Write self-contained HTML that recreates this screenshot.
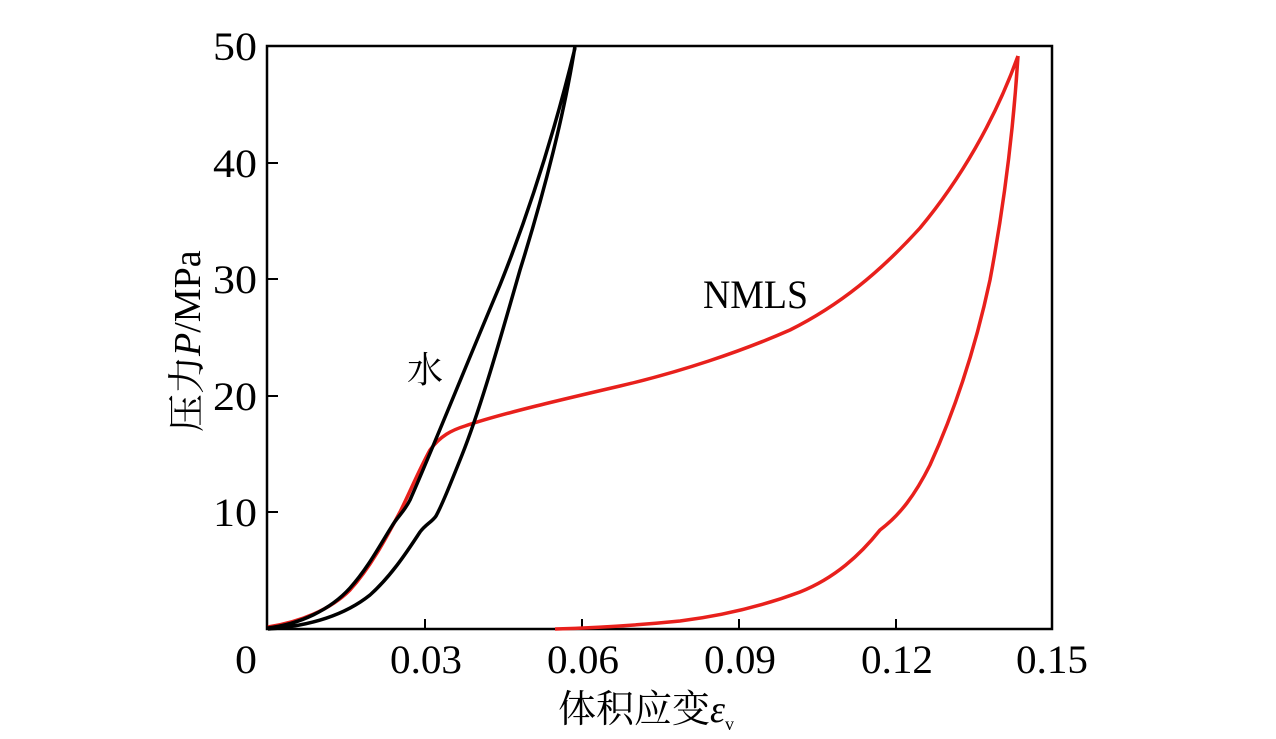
<!DOCTYPE html>
<html><head><meta charset="utf-8"><style>
html,body{margin:0;padding:0;background:#fff;}
svg{display:block;}
text{font-family:"Liberation Serif","Noto Serif CJK SC",serif;fill:#000;}
</style></head><body>
<svg width="1276" height="739" viewBox="0 0 1276 739" xmlns="http://www.w3.org/2000/svg">
<rect x="267" y="46" width="785" height="583" fill="none" stroke="#000" stroke-width="2.5"/>
<g stroke="#000" stroke-width="2">
<line x1="425" y1="629" x2="425" y2="619"/><line x1="582" y1="629" x2="582" y2="619"/>
<line x1="739" y1="629" x2="739" y2="619"/><line x1="896" y1="629" x2="896" y2="619"/>
<line x1="267" y1="512" x2="278" y2="512"/><line x1="267" y1="396" x2="278" y2="396"/>
<line x1="267" y1="279" x2="278" y2="279"/><line x1="267" y1="163" x2="278" y2="163"/>
</g>
<g font-size="40">
<text x="235" y="673" textLength="22" lengthAdjust="spacingAndGlyphs">0</text>
<text x="390" y="673" textLength="72" lengthAdjust="spacingAndGlyphs">0.03</text>
<text x="547" y="673" textLength="72" lengthAdjust="spacingAndGlyphs">0.06</text>
<text x="704" y="673" textLength="72" lengthAdjust="spacingAndGlyphs">0.09</text>
<text x="861" y="673" textLength="72" lengthAdjust="spacingAndGlyphs">0.12</text>
<text x="1016" y="673" textLength="72" lengthAdjust="spacingAndGlyphs">0.15</text>
<text x="213" y="526" textLength="44" lengthAdjust="spacingAndGlyphs">10</text>
<text x="213" y="410" textLength="44" lengthAdjust="spacingAndGlyphs">20</text>
<text x="213" y="293" textLength="44" lengthAdjust="spacingAndGlyphs">30</text>
<text x="213" y="177" textLength="44" lengthAdjust="spacingAndGlyphs">40</text>
<text x="213" y="60" textLength="44" lengthAdjust="spacingAndGlyphs">50</text>
<text x="703" y="308" textLength="105" lengthAdjust="spacingAndGlyphs">NMLS</text>
</g>
<text x="407" y="382" font-size="36">水</text>
<text x="558" y="722" font-size="38">体积应变<tspan font-style="italic">ε</tspan><tspan font-size="18" dy="8">v</tspan></text>
<text transform="translate(200,432) rotate(-90)" font-size="38">压力<tspan font-style="italic">P</tspan>/MPa</text>
<g fill="none" stroke-width="3.5" stroke-linejoin="round">
<path stroke="#e8201c" d="M268,627 C300,622 330,610 350,590 C370,568 385,540 400,512 C410,492 418,472 430,450 C440,436 452,430 465,426 C500,414 560,400 620,386 C680,372 740,352 790,330 C840,305 880,272 920,228 C960,180 995,120 1018,56 M1018,56 C1014,120 1005,200 990,280 C975,350 955,410 930,465 C915,495 900,515 880,530 C860,555 835,578 800,592 C760,607 720,616 680,621 C630,626 590,628 555,629"/>
<path stroke="#000" d="M268,628 C300,624 330,610 350,588 C368,568 380,545 392,526 C398,516 404,512 410,500 C430,455 460,380 500,285 C530,210 555,130 575,48 M575,46 C565,110 545,190 520,270 C500,340 480,410 462,455 C450,485 442,505 436,516 C432,522 426,524 420,532 C405,555 390,577 370,595 C345,615 310,626 268,629"/>
</g>
</svg>
</body></html>
